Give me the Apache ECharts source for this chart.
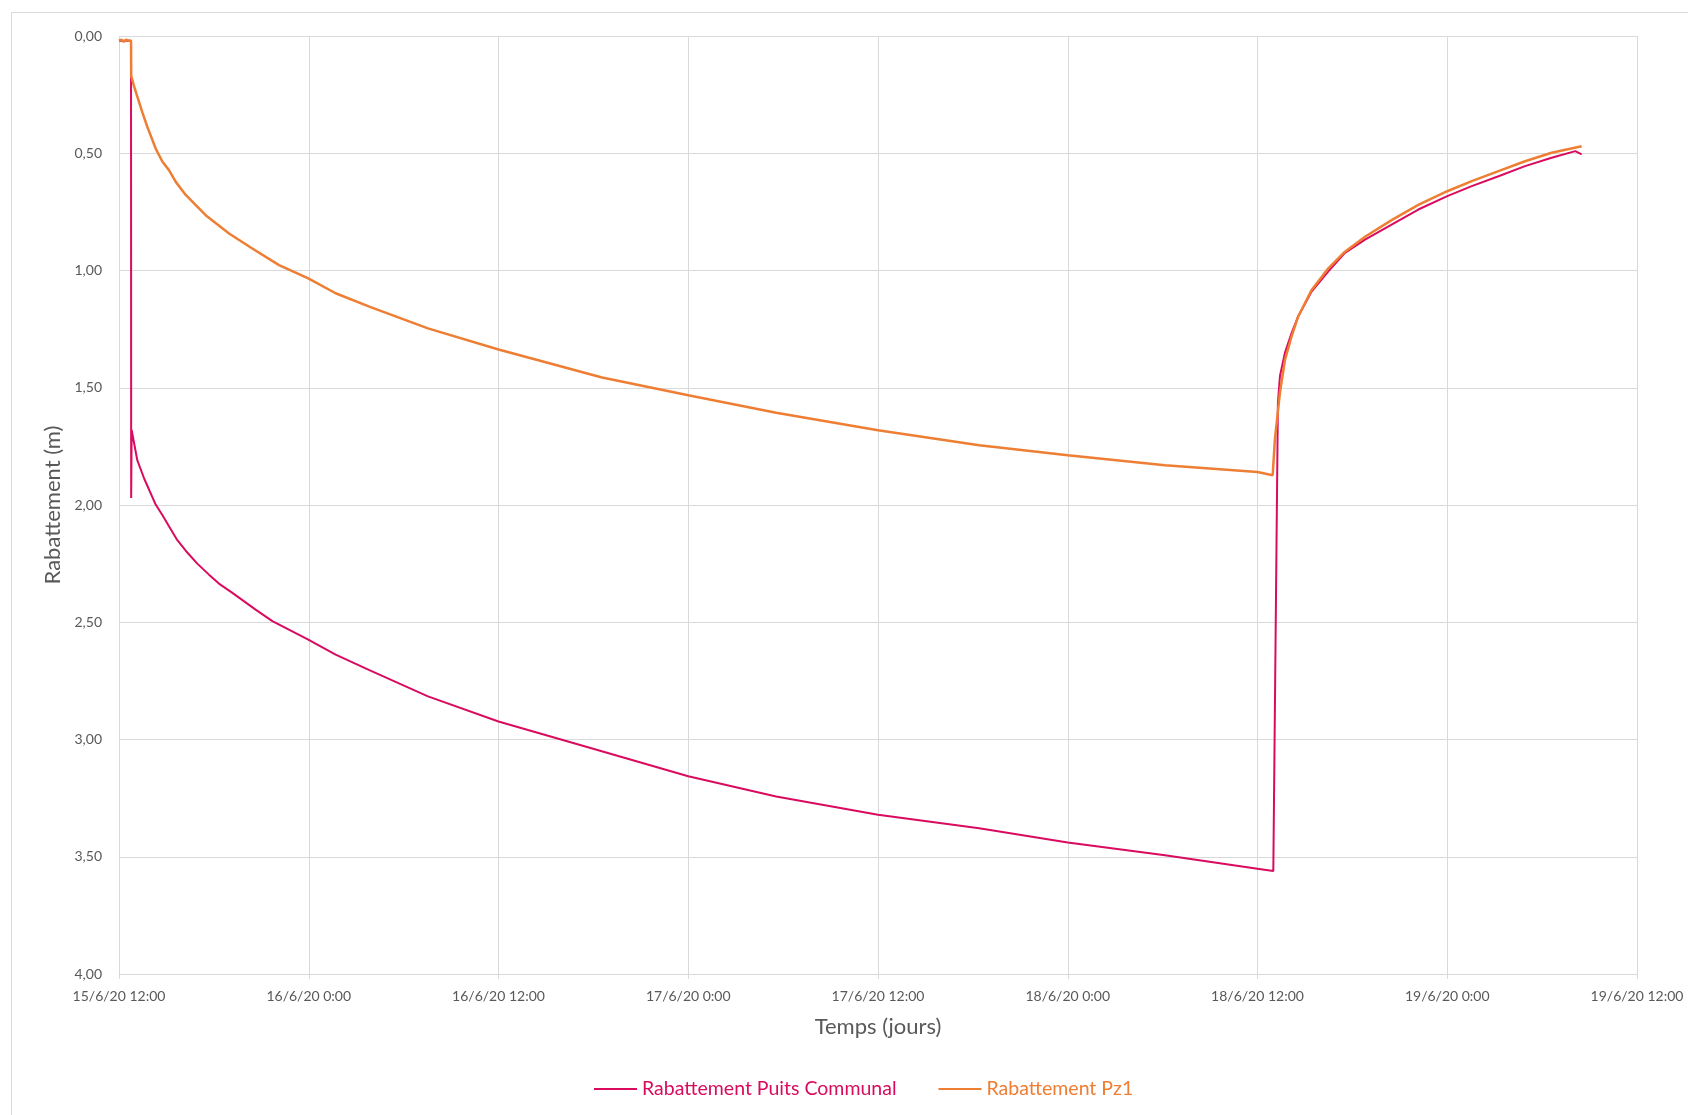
<!DOCTYPE html>
<html>
<head>
<meta charset="utf-8">
<title>Rabattement</title>
<script src="https://cdn.jsdelivr.net/npm/echarts@6/dist/echarts.min.js"></script>
<style>
  html, body { margin: 0; padding: 0; background: #ffffff; }
  #chart { width: 1688px; height: 1115px; }
</style>
</head>
<body>
<div id="chart"></div>
<script>
// Elapsed time (hours since 15/6/20 12:00) and drawdown (m)
const xTickLabels = ['15/6/20 12:00', '16/6/20 0:00', '16/6/20 12:00', '17/6/20 0:00',
  '17/6/20 12:00', '18/6/20 0:00', '18/6/20 12:00', '19/6/20 0:00', '19/6/20 12:00'];

const puitsHours = [0, 0.4, 0.76, 0.77, 0.80, 1.16, 1.59, 2.32, 2.74, 3.16, 3.69, 4.22, 4.95, 5.69, 6.32,
  7.17, 8.64, 9.70, 11.97, 13.7, 15.87, 19.54, 24, 29.82, 36, 41.56, 48, 54.4, 60, 66.15, 72, 73.0,
  73.06, 73.29, 73.42, 73.74, 74.16, 74.58, 75.42, 76.48, 77.53, 78.8, 80.48, 82.17,
  84, 85.55, 87.24, 88.92, 90.6, 92.1, 92.5];
const puitsValues = [0.02, 0.02, 0.02, 1.97, 1.68, 1.81, 1.887, 1.998, 2.043, 2.091, 2.15, 2.195, 2.25, 2.297, 2.335,
  2.375, 2.446, 2.495, 2.574, 2.638, 2.705, 2.816, 2.923, 3.036, 3.157, 3.243, 3.321, 3.378, 3.439, 3.494, 3.551, 3.561,
  3.561, 1.565, 1.45, 1.35, 1.266, 1.195, 1.09, 1.004, 0.925, 0.868, 0.804, 0.74,
  0.683, 0.64, 0.598, 0.555, 0.519, 0.491, 0.505];

const pz1Hours = [0, 0.15, 0.3, 0.45, 0.6, 0.76, 0.77, 0.95, 1.16, 1.48, 1.79, 2.32, 2.74, 3.16, 3.58, 4.22,
  5.48, 6.96, 8.43, 10.12, 11.97, 13.7, 15.87, 19.54, 24, 30.55, 36, 41.56, 48, 54.4, 60, 66.15, 72, 72.96,
  73.1, 73.42, 73.74, 74.16, 74.58, 75.42, 76.48, 77.53, 78.8, 80.48, 82.17, 84, 85.55,
  87.24, 88.92, 90.6, 92.5];
const pz1Values = [0.02, 0.015, 0.025, 0.015, 0.02, 0.02, 0.17, 0.214, 0.259, 0.327, 0.387, 0.48, 0.535, 0.572, 0.621, 0.678,
  0.764, 0.842, 0.906, 0.977, 1.034, 1.097, 1.155, 1.247, 1.337, 1.456, 1.532, 1.607, 1.681, 1.745, 1.788, 1.83, 1.859, 1.873,
  1.72, 1.52, 1.38, 1.28, 1.195, 1.083, 0.991, 0.92, 0.856, 0.785, 0.72, 0.662, 0.619,
  0.576, 0.534, 0.498, 0.47];

const seriesNames = ['Rabattement Puits Communal', 'Rabattement Pz1'];
const colors = ['#D90B5E', '#EE7E33'];

const zip = (xs, ys) => xs.map((x, i) => [x, ys[i]]);

const FONT = 'Lato, "Open Sans", sans-serif';
const GRID = '#D9D9D9';
const TEXT = '#595959';

const chart = echarts.init(document.getElementById('chart'), null, { renderer: 'canvas' });

chart.setOption({
  backgroundColor: '#ffffff',
  animation: false,
  textStyle: { fontFamily: FONT },
  graphic: [{
    type: 'rect',
    shape: { x: 11.5, y: 12.5, width: 1700, height: 1200 },
    style: { fill: 'none', stroke: GRID, lineWidth: 1 },
    silent: true,
    z: -10
  }],
  grid: { left: 119, right: 51, top: 36, bottom: 141, containLabel: false },
  legend: {
    left: 589,
    top: 1074,
    itemGap: 42,
    itemWidth: 43,
    itemHeight: 2,
    icon: 'rect',
    textStyle: { fontSize: 19.5, fontFamily: FONT },
    data: seriesNames.map((n, i) => ({ name: n, textStyle: { color: colors[i] } }))
  },
  xAxis: {
    type: 'value',
    min: 0,
    max: 96,
    interval: 12,
    name: 'Temps (jours)',
    nameLocation: 'middle',
    nameGap: 42,
    nameTextStyle: { fontSize: 22, color: TEXT, fontFamily: FONT },
    axisLine: { show: true, onZero: false, lineStyle: { color: GRID, width: 1 } },
    axisTick: { show: true, length: 5, lineStyle: { color: GRID } },
    axisLabel: {
      color: TEXT, fontSize: 14, margin: 15, fontFamily: FONT,
      formatter: v => xTickLabels[Math.round(v / 12)] || ''
    },
    splitLine: { show: true, lineStyle: { color: GRID, width: 1 } }
  },
  yAxis: {
    type: 'value',
    inverse: true,
    min: 0,
    max: 4,
    interval: 0.5,
    name: 'Rabattement (m)',
    nameLocation: 'middle',
    nameGap: 54,
    nameRotate: 90,
    nameTextStyle: { fontSize: 22, color: TEXT, fontFamily: FONT },
    axisLine: { show: false },
    axisTick: { show: false },
    axisLabel: {
      color: TEXT, fontSize: 14, margin: 17, fontFamily: FONT,
      formatter: v => v.toFixed(2).replace('.', ',')
    },
    splitLine: { show: true, lineStyle: { color: GRID, width: 1 } }
  },
  series: [
    {
      name: seriesNames[0],
      type: 'line',
      data: zip(puitsHours, puitsValues),
      showSymbol: false,
      symbol: 'none',
      lineStyle: { color: colors[0], width: 2 },
      itemStyle: { color: colors[0] },
      z: 2
    },
    {
      name: seriesNames[1],
      type: 'line',
      data: zip(pz1Hours, pz1Values),
      showSymbol: false,
      symbol: 'none',
      lineStyle: { color: colors[1], width: 2.5 },
      itemStyle: { color: colors[1] },
      z: 3
    }
  ]
});
</script>
</body>
</html>
